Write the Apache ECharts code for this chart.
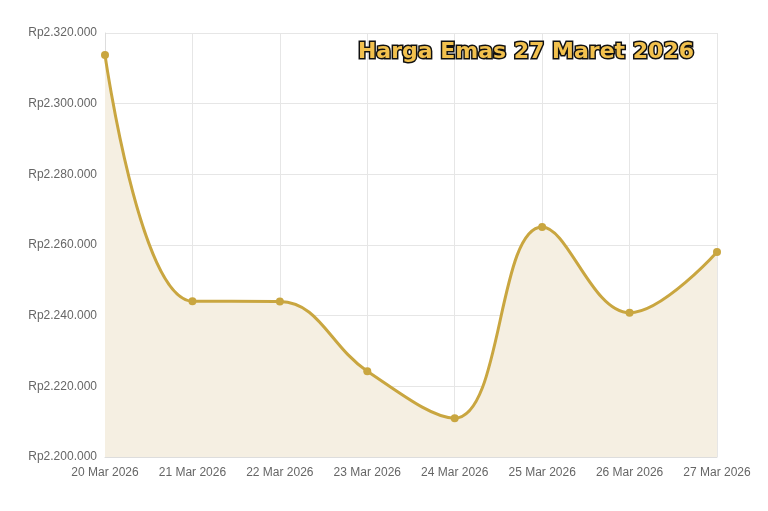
<!DOCTYPE html>
<html><head><meta charset="utf-8">
<script src="https://cdn.jsdelivr.net/npm/echarts@6/dist/echarts.min.js"></script>
<style>html,body{margin:0;background:#fff}#c{width:768px;height:511px}</style>
</head><body><div id="c"></div>
<script>
const categories = ['20 Mar 2026','21 Mar 2026','22 Mar 2026','23 Mar 2026','24 Mar 2026','25 Mar 2026','26 Mar 2026','27 Mar 2026'];
const prices = [2313800, 2244100, 2244000, 2224300, 2211000, 2265100, 2240800, 2258000];
const titleText = 'Harga Emas 27 Maret 2026';
const chart = echarts.init(document.getElementById('c'));
const fmt = v => 'Rp' + v.toString().replace(/\B(?=(\d{3})+(?!\d))/g, '.');
chart.setOption({
  animation: false,
  title: { text: titleText, right: 66, top: 36,
    textStyle: { fontFamily: 'DejaVu Sans', fontWeight: 'bold', fontSize: 22, color: '#f2c14e',
      textBorderColor: '#111', textBorderWidth: 3, textShadowColor: '#000', textShadowOffsetX: 2, textShadowOffsetY: 2, textShadowBlur: 0 } },
  grid: { left: 105, right: 51, top: 33, bottom: 54 },
  xAxis: { type: 'category', data: categories, boundaryGap: false,
    axisLine: { lineStyle: { color: '#ddd' } }, axisTick: { show: false },
    axisLabel: { color: '#666', fontSize: 12, fontFamily: 'Liberation Sans', margin: 10, interval: 0 },
    splitLine: { show: true, interval: 0, lineStyle: { color: '#e6e6e6' } } },
  yAxis: { type: 'value', min: 2200000, max: 2320000, interval: 20000,
    axisLine: { show: true, lineStyle: { color: '#ddd' } },
    axisLabel: { color: '#666', fontSize: 12, fontFamily: 'Liberation Sans', formatter: fmt },
    splitLine: { lineStyle: { color: '#e6e6e6' } } },
  series: [{ type: 'line', data: prices, smooth: 0.4, symbol: 'circle', symbolSize: 8,
    lineStyle: { color: '#c9a640', width: 3 }, itemStyle: { color: '#c9a640' },
    areaStyle: { color: '#f5efe2', opacity: 1 } }]
});
</script></body></html>
